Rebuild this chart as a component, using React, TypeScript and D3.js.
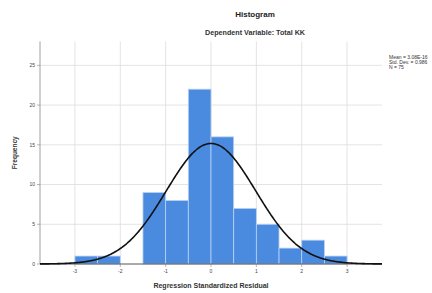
import React from "react";
import * as d3 from "d3";

// bin lower edges (width 0.5) and counts
const binStarts = [-3, -2.5, -2, -1.5, -1, -0.5, 0, 0.5, 1, 1.5, 2, 2.5];
const counts = [1, 1, 0, 9, 8, 22, 16, 7, 5, 2, 3, 1];
const xTicks = [-3, -2, -1, 0, 1, 2, 3];
const yTicks = [0, 5, 10, 15, 20, 25];
const legendLines = ["Mean = 3.08E-16", "Std. Dev. = 0.986", "N = 75"];

const mean = 0;
const sd = 0.986;
const n = 75;
const binWidth = 0.5;

const width = 432;
const height = 293;

const App = () => {
  const x = d3.scaleLinear().domain([-3.77, 3.77]).range([40, 382]);
  const y = d3.scaleLinear().domain([0, 28]).range([264, 41.5]);

  const curvePts = d3.range(-3.77, 3.771, 0.02).map((v) => ({
    v,
    f:
      (n * binWidth) / (sd * Math.sqrt(2 * Math.PI)) *
      Math.exp(-((v - mean) ** 2) / (2 * sd * sd)),
  }));

  const line = d3
    .line<{ v: number; f: number }>()
    .x((d) => x(d.v))
    .y((d) => y(d.f))
    .curve(d3.curveBasis);

  const [x0, x1] = x.range();
  const font = "'Liberation Sans', Arial, sans-serif";

  return (
    <svg
      width={width}
      height={height}
      style={{ position: "absolute", left: 0, top: 0, background: "#fff" }}
      fontFamily={font}
    >
      <text x={255} y={17} textAnchor="middle" fontSize={8} fontWeight="bold" fill="#222">
        Histogram
      </text>
      <text x={255} y={35} textAnchor="middle" fontSize={7.2} fontWeight="bold" fill="#333">
        Dependent Variable: Total KK
      </text>

      {/* grid */}
      {yTicks.slice(1).map((t) => (
        <line key={"gy" + t} x1={x0} x2={x1} y1={y(t)} y2={y(t)} stroke="#dcdcdc" strokeWidth={0.8} />
      ))}
      {xTicks.map((t) => (
        <line key={"gx" + t} x1={x(t)} x2={x(t)} y1={y(0)} y2={y(28)} stroke="#dcdcdc" strokeWidth={0.8} />
      ))}

      {/* bars */}
      {binStarts.map((b, i) =>
        counts[i] > 0 ? (
          <rect
            key={"b" + i}
            x={x(b)}
            y={y(counts[i])}
            width={x(b + binWidth) - x(b)}
            height={y(0) - y(counts[i])}
            fill="#4a8be0"
            stroke="#b9d3f3"
            strokeWidth={0.8}
          />
        ) : null
      )}

      {/* axes */}
      <line x1={x0} x2={x0} y1={y(0)} y2={y(28)} stroke="#888" strokeWidth={0.8} />
      <line x1={x0} x2={x1} y1={y(0)} y2={y(0)} stroke="#555" strokeWidth={1} />
      {yTicks.map((t) => (
        <g key={"yt" + t}>
          <line x1={x0 - 3} x2={x0} y1={y(t)} y2={y(t)} stroke="#888" strokeWidth={0.6} />
          <text x={x0 - 5} y={y(t) + 1.8} textAnchor="end" fontSize={5} fill="#444">
            {t}
          </text>
        </g>
      ))}
      {xTicks.map((t) => (
        <g key={"xt" + t}>
          <line x1={x(t)} x2={x(t)} y1={y(0)} y2={y(0) + 3} stroke="#888" strokeWidth={0.6} />
          <text x={x(t)} y={y(0) + 9} textAnchor="middle" fontSize={5} fill="#444">
            {t}
          </text>
        </g>
      ))}

      {/* normal curve */}
      <path d={line(curvePts) ?? ""} fill="none" stroke="#111" strokeWidth={1.6} />

      <text
        transform={`translate(17, ${(y(0) + y(28)) / 2}) rotate(-90)`}
        textAnchor="middle"
        fontSize={6.5}
        fontWeight="bold"
        fill="#333"
      >
        Frequency
      </text>
      <text x={211} y={288} textAnchor="middle" fontSize={7} fontWeight="bold" fill="#333">
        Regression Standardized Residual
      </text>

      {legendLines.map((s, i) => (
        <text key={"lg" + i} x={389} y={59 + i * 5} fontSize={5} fill="#333">
          {s}
        </text>
      ))}
    </svg>
  );
};

export default App;
